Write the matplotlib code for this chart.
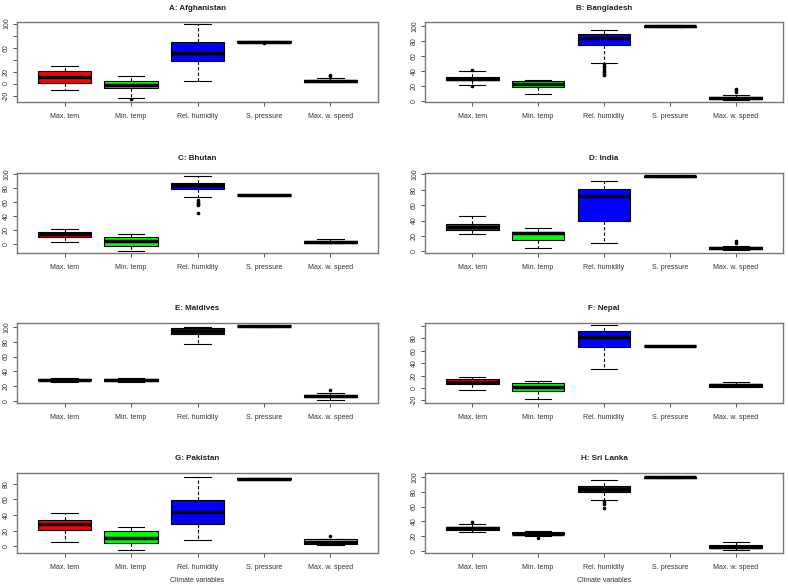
import matplotlib
matplotlib.use('Agg')
import matplotlib.pyplot as plt

plt.rcParams['font.family'] = ['Liberation Sans', 'DejaVu Sans']

variables = ['Max. tem', 'Min. temp', 'Rel. humidity', 'S. pressure', 'Max. w. speed']
titles = ['A: Afghanistan', 'B: Bangladesh', 'C: Bhutan', 'D: India',
          'E: Maldives', 'F: Nepal', 'G: Pakistan', 'H: Sri Lanka']

# box statistics, one row per country
whislo = [[-11.4, -24.4, 5.1, 68.7, 2.0],
          [20.5, 8.7, 51.1, 98.6, 1.4],
          [2.5, -10.8, 67.6, 69.5, 1.0],
          [22.1, 4.4, 10.6, 96.5, 1.3],
          [26.0, 25.7, 77.5, 100.3, 1.8],
          [-3.2, -17.8, 30.3, 67.0, 1.5],
          [5.5, -4.7, 8.1, 85.8, 1.5],
          [25.7, 19.8, 68.9, 99.2, 1.4]]
q1 = [[1.7, -8.0, 36.9, 69.3, 2.8],
      [27.9, 18.3, 74.0, 99.2, 2.3],
      [10.3, -2.9, 79.4, 69.7, 1.5],
      [28.3, 15.0, 39.8, 96.8, 3.1],
      [27.9, 27.0, 90.0, 100.9, 5.4],
      [6.5, -4.3, 65.9, 67.3, 2.2],
      [20.9, 4.3, 28.9, 86.1, 3.0],
      [28.8, 22.5, 79.3, 99.3, 3.6]]
med = [[11.4, -2.3, 50.6, 69.9, 4.5],
       [29.7, 22.8, 84.0, 100.0, 3.7],
       [14.7, 3.4, 84.3, 70.0, 2.9],
       [31.4, 23.5, 71.7, 97.3, 4.0],
       [28.8, 28.5, 94.6, 101.4, 6.8],
       [10.3, 1.1, 82.7, 67.6, 4.3],
       [28.1, 11.1, 43.8, 86.4, 5.1],
       [30.6, 23.4, 84.2, 99.5, 5.9]]
q3 = [[20.5, 4.0, 69.9, 70.5, 6.2],
      [32.4, 26.0, 89.0, 100.8, 5.5],
      [17.6, 9.3, 87.7, 70.3, 4.4],
      [35.4, 24.8, 81.4, 97.8, 5.3],
      [29.7, 30.2, 98.2, 101.8, 8.6],
      [14.0, 7.6, 91.4, 67.9, 6.5],
      [33.2, 19.1, 59.6, 86.7, 9.4],
      [32.4, 25.2, 87.8, 99.7, 8.1]]
whishi = [[29.5, 12.5, 98.9, 71.0, 9.7],
          [39.7, 28.3, 94.5, 101.4, 8.2],
          [21.6, 14.2, 98.0, 71.0, 6.4],
          [46.0, 30.5, 92.0, 99.0, 7.1],
          [31.0, 31.5, 100.0, 102.5, 11.3],
          [18.4, 11.9, 101.0, 68.3, 9.2],
          [42.6, 24.7, 88.5, 87.0, 9.8],
          [36.5, 27.0, 96.4, 99.9, 12.2]]
fliers = [[[], [-25.6], [], [68.2], [13.6, 12.5]],
          [[40.6, 19.8], [], [49, 47, 44.5, 42, 40, 38, 36, 34.5], [], [11.4, 13.7, 15.5]],
          [[], [], [62.7, 60, 58.5, 57, 55.9, 45], [], []],
          [[], [], [], [], [10.6, 13.3]],
          [[], [], [], [], [14.9]],
          [[], [], [], [], []],
          [[], [], [], [], [12.8]],
          [[39.2], [18], [66.7, 64, 58.6], [], []]]

box_colors = ['#ff0000', '#00ff00', '#0000ff', '#d3d3d3', '#d3d3d3']

# layout (pixels)
ylims = [(-30.8, 102.8), (-1.8, 105.5), (-13.2, 102), (-2.2, 101.8),
         (-2.7, 105.4), (-24.3, 104.9), (-8.5, 93.6), (-2.7, 105.4)]
hidden = [[40, 80], [], [], [], [], [100], [], []]
row_tops = [22, 173, 323, 473]
col_x = [(17, 378), (425, 783)]

W, H = 788, 587
fig = plt.figure(figsize=(W / 100, H / 100), dpi=100)

for i in range(8):
    r, c = divmod(i, 2)
    x0, x1 = col_x[c]
    top = row_tops[r]
    ax = fig.add_axes([x0 / W, 1 - (top + 80) / H, (x1 - x0) / W, 80 / H])

    stats = []
    for j in range(5):
        stats.append(dict(med=med[i][j], q1=q1[i][j], q3=q3[i][j],
                          whislo=whislo[i][j], whishi=whishi[i][j],
                          fliers=fliers[i][j]))
    bp = ax.bxp(stats, positions=range(1, 6), widths=0.8, patch_artist=True,
                boxprops=dict(edgecolor='black', linewidth=0.8),
                medianprops=dict(color='black', linewidth=2.5),
                whiskerprops=dict(color='black', linewidth=0.8, linestyle=(0, (3, 2))),
                capprops=dict(color='black', linewidth=0.8),
                capwidths=0.4,
                flierprops=dict(marker='o', markersize=1.6, markerfacecolor='black',
                                markeredgecolor='black', linestyle='none'))
    for patch, col in zip(bp['boxes'], box_colors):
        patch.set_facecolor(col)

    ax.set_xlim(0.285, 5.715)
    ax.set_ylim(*ylims[i])
    ax.set_xticks(range(1, 6))
    ax.set_xticklabels(variables, fontsize=5, color='#333333')
    lo, hi = ylims[i]
    ticks = [t for t in range(-100, 201, 20) if lo <= t <= hi]
    ax.set_yticks(ticks)
    ax.set_yticklabels(['' if t in hidden[i] else str(t) for t in ticks],
                       rotation=90, va='center', fontsize=5, color='#333333')
    ax.tick_params(direction='out', length=3, width=0.7, color='#555555')
    ax.tick_params(axis='x', pad=5)
    ax.tick_params(axis='y', pad=2)
    for s in ax.spines.values():
        s.set_color('#777777')
        s.set_linewidth(1.0)
    ax.set_title(titles[i], fontsize=5.8, fontweight='bold', color='#222222', pad=9)
    if r == 3:
        ax.set_xlabel('Climate variables', fontsize=5, color='#333333', labelpad=4)

fig.savefig('out.png', dpi=100)
